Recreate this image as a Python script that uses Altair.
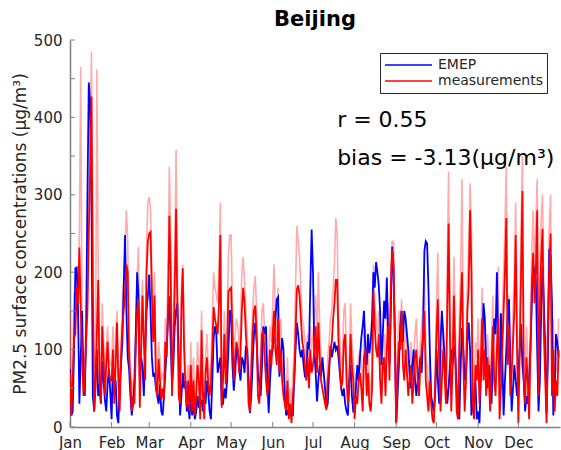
import altair as alt
import pandas as pd

# ---------------- data (daily values) ----------------
month_names = ["Jan", "Feb", "Mar", "Apr", "May", "Jun", "Jul", "Aug", "Sep", "Oct", "Nov", "Dec"]
month_start = [1, 32, 60, 91, 121, 152, 182, 213, 244, 274, 305, 335]
y_ticks = [0, 50, 100, 150, 200, 250, 300, 350, 400, 450, 500]

emep_jan = [75,15,20,100,205,206,150,30,90,150,60,40,120,300,445,420,290,40,20,60,100,40,55,30,85,60,35,20,55,75,45]
emep_feb = [10,85,40,60,15,5,50,80,110,180,248,150,90,75,40,15,30,60,120,200,170,65,90,78,40,100,150,170]
emep_mar = [197,150,90,65,70,50,40,30,55,20,15,40,70,100,140,169,110,55,80,130,150,160,90,15,40,70,50,60,20,30,10]
emep_apr = [40,15,30,10,20,40,25,30,35,20,45,30,60,45,20,10,60,115,130,120,70,80,90,30,30,50,37,60,100,150]
emep_may = [150,80,47,70,100,100,75,60,90,85,70,105,100,60,18,40,80,120,135,110,70,58,40,80,130,120,130,60,18,60,90]
emep_jun = [100,116,140,165,168,65,90,115,100,40,15,20,15,30,15,15,60,100,135,120,100,90,100,80,65,65,110,100,180,255]
emep_jul = [200,100,70,33,60,80,65,90,70,50,25,30,70,105,90,100,110,100,105,90,70,50,40,50,30,20,15,60,80,40,20]
emep_aug = [20,50,80,60,90,115,130,150,100,80,120,95,110,140,200,180,213,200,183,150,80,120,163,140,193,120,80,150,233,200,120]
emep_sep = [5,40,80,130,150,110,150,140,120,100,70,50,80,100,60,40,60,70,90,70,120,228,240,237,180,100,40,30,20,40]
emep_oct = [100,60,30,110,150,120,90,60,30,50,80,100,80,105,90,50,20,10,80,128,100,60,70,110,135,100,15,30,40,60,10]
emep_nov = [20,5,60,100,160,140,80,50,80,60,30,90,140,120,200,100,60,147,90,15,60,100,143,165,80,20,50,80,60,40]
emep_dec = [70,100,133,80,60,20,40,30,60,100,160,210,200,190,100,20,60,150,207,160,100,18,90,230,220,160,15,40,120,110,90]

meas_jan = [70,15,60,115,120,180,160,232,150,90,40,60,110,150,250,330,427,190,20,50,120,190,60,30,130,90,40,80,110,70,60]
meas_feb = [60,100,30,80,135,60,20,90,130,150,170,210,200,90,60,20,40,30,100,150,165,25,100,170,110,60,200,240]
meas_mar = [250,252,170,110,170,55,40,88,60,35,50,35,110,90,150,273,200,40,100,180,282,150,40,30,155,205,100,50,25,60,20]
meas_apr = [80,20,60,15,40,80,60,10,125,40,10,70,90,55,40,60,100,155,140,130,120,160,248,25,60,120,55,90,175,178]
meas_may = [180,120,60,90,110,100,70,95,150,180,160,120,90,30,20,70,120,150,157,120,40,30,70,120,125,90,60,40,60,100,80]
meas_jun = [120,150,100,80,140,70,100,60,40,30,20,60,10,30,5,40,60,120,178,183,170,140,110,100,80,60,90,50,100,70]
meas_jul = [80,100,130,70,135,90,60,50,40,30,22,60,80,100,110,140,160,190,190,110,80,50,60,110,120,60,30,50,120,80,60]
meas_aug = [10,40,30,60,70,50,20,90,100,40,70,30,20,50,175,130,100,90,120,60,30,80,90,40,100,130,60,180,230,210,100]
meas_sep = [5,70,110,100,150,80,60,100,70,40,60,80,30,60,90,100,60,40,80,100,120,150,60,40,20,60,30,10,5,50]
meas_oct = [120,165,80,20,60,100,70,30,150,263,120,20,80,170,90,20,10,100,150,200,80,20,60,150,180,280,200,30,10,80,60]
meas_nov = [100,30,80,140,60,100,40,90,60,20,80,130,60,40,100,142,10,50,100,150,200,270,80,130,40,70,110,150,248,100]
meas_dec = [5,100,200,305,60,30,90,60,10,100,180,225,160,200,280,40,150,220,256,120,60,5,130,200,250,40,100,20,60,40,100]

meas2_jan = [150,30,90,173,150,200,180,250,465,120,80,90,150,200,300,380,485,250,40,70,462,210,90,50,160,110,60,100,130,90,80]
meas2_feb = [80,130,60,120,150,80,40,110,160,190,230,280,240,120,80,40,60,60,130,190,233,60,140,190,130,90,240,290]
meas2_mar = [297,280,200,140,200,80,60,110,90,60,70,60,140,120,200,336,250,70,140,220,358,200,70,50,180,210,130,70,50,80,40]
meas2_apr = [110,40,90,30,60,110,80,30,150,60,25,90,120,80,60,80,140,200,180,170,160,210,290,50,90,150,90,130,220,248]
meas2_may = [248,160,90,120,140,130,100,130,200,220,190,150,120,60,40,100,150,180,195,150,70,50,100,150,160,120,90,70,90,130,110]
meas2_jun = [160,210,140,110,180,100,140,90,60,50,40,90,30,50,20,70,100,180,260,240,220,180,140,130,110,90,120,80,130,100]
meas2_jul = [120,140,170,110,200,130,90,80,70,50,40,90,110,140,150,180,210,270,250,150,110,80,90,150,160,90,50,80,160,110,90]
meas2_aug = [30,70,60,90,100,80,50,120,130,70,100,60,40,80,210,160,140,120,150,90,50,110,120,70,140,160,90,210,240,240,140]
meas2_sep = [20,100,150,130,165,120,90,130,100,60,80,110,60,90,120,140,90,60,110,130,160,200,100,70,40,90,50,20,15,80]
meas2_oct = [160,225,110,40,90,130,100,50,200,330,160,40,110,220,130,40,20,140,200,320,120,40,90,190,230,315,260,60,20,110,90]
meas2_nov = [140,60,110,180,90,130,70,120,90,40,110,170,90,60,130,207,30,80,140,200,260,336,120,170,70,100,150,200,290,140]
meas2_dec = [20,140,260,350,100,50,130,90,30,140,230,280,200,260,320,70,200,270,300,160,90,20,170,260,300,80,140,40,90,70,140]

emep = (emep_jan + emep_feb + emep_mar + emep_apr + emep_may + emep_jun +
        emep_jul + emep_aug + emep_sep + emep_oct + emep_nov + emep_dec)
meas = (meas_jan + meas_feb + meas_mar + meas_apr + meas_may + meas_jun +
        meas_jul + meas_aug + meas_sep + meas_oct + meas_nov + meas_dec)
meas2 = (meas2_jan + meas2_feb + meas2_mar + meas2_apr + meas2_may + meas2_jun +
         meas2_jul + meas2_aug + meas2_sep + meas2_oct + meas2_nov + meas2_dec)

days = list(range(1, len(emep) + 1))

main_df = pd.DataFrame({
    "day": days + days,
    "value": emep + meas,
    "series": ["EMEP"] * len(days) + ["measurements"] * len(days),
})
faint_df = pd.DataFrame({"day": days, "value": meas2})
ytick_df = pd.DataFrame({"v": y_ticks})
xtick_df = pd.DataFrame({"d": month_start})

ann_text = ["r = 0.55", "bias = -3.13(μg/m³)"]
ann_day = [200, 200]
ann_val = [387, 338]
ann_df = pd.DataFrame({"t": ann_text, "d": ann_day, "v": ann_val})

FONT = "DejaVu Sans"
AX = "#808080"
TXT = "#262626"

label_expr = "[" + ",".join("'%s'" % m for m in month_names) + "][indexof([" + \
    ",".join(str(s) for s in month_start) + "], datum.value)]"

xscale = alt.Scale(domain=[1, 366], nice=False, zero=False)
yscale = alt.Scale(domain=[0, 500], nice=False)

x_axis = alt.Axis(values=month_start, labelExpr=label_expr, ticks=False, grid=False,
                  domainColor=AX, domainWidth=1.5, labelFont=FONT, labelFontSize=15,
                  labelColor=TXT, labelPadding=8, title=None, labelFlush=False)
y_axis = alt.Axis(values=y_ticks, ticks=False, grid=False, domainColor=AX, domainWidth=1.5,
                  labelFont=FONT, labelFontSize=15, labelColor=TXT, labelPadding=8,
                  title="PM2.5 surface concentrations (μg/m³)", titleFont=FONT,
                  titleFontSize=17, titleFontWeight="normal", titleColor=TXT, titlePadding=4)

faint = alt.Chart(faint_df).mark_line(color="#ff0000", opacity=0.33, strokeWidth=1.6, clip=True).encode(
    x=alt.X("day:Q", scale=xscale, axis=x_axis),
    y=alt.Y("value:Q", scale=yscale, axis=y_axis),
)

lines = alt.Chart(main_df).mark_line(strokeWidth=1.8, clip=True).encode(
    x=alt.X("day:Q", scale=xscale),
    y=alt.Y("value:Q", scale=yscale),
    color=alt.Color("series:N",
                    scale=alt.Scale(domain=["EMEP", "measurements"], range=["#0000ff", "#ff0000"]),
                    legend=alt.Legend(title=None, orient="none", legendX=310, legendY=13,
                                      labelFont=FONT, labelFontSize=14, labelColor=TXT,
                                      symbolType="stroke", symbolSize=2200, symbolStrokeWidth=1.5,
                                      clipHeight=16,
                                      strokeColor="#262626", fillColor="white", padding=4,
                                      rowPadding=0, labelOffset=5)),
    order=alt.Order("series:N"),
)

yticks = alt.Chart(ytick_df).mark_rule(color=AX, strokeWidth=1).encode(
    y=alt.Y("v:Q", scale=yscale), x=alt.value(0), x2=alt.value(5))
xticks = alt.Chart(xtick_df).mark_rule(color=AX, strokeWidth=1).encode(
    x=alt.X("d:Q", scale=xscale), y=alt.value(382), y2=alt.value(387))

ann = alt.Chart(ann_df).mark_text(align="left", baseline="alphabetic", font=FONT,
                                  fontSize=22, color="black").encode(
    x=alt.X("d:Q", scale=xscale), y=alt.Y("v:Q", scale=yscale), text="t:N")

chart = alt.layer(faint, lines, yticks, xticks, ann).properties(
    width=490, height=387,
    title=alt.Title("Beijing", font=FONT, fontSize=21, fontWeight="bold", color="black",
                    anchor="middle", offset=3),
    autosize=alt.AutoSizeParams(type="none"),
    padding={"left": 70, "top": 40, "right": 1, "bottom": 23},
).configure_view(stroke=None)

chart.save("out.html", embed_options={"renderer": "svg", "actions": False})
